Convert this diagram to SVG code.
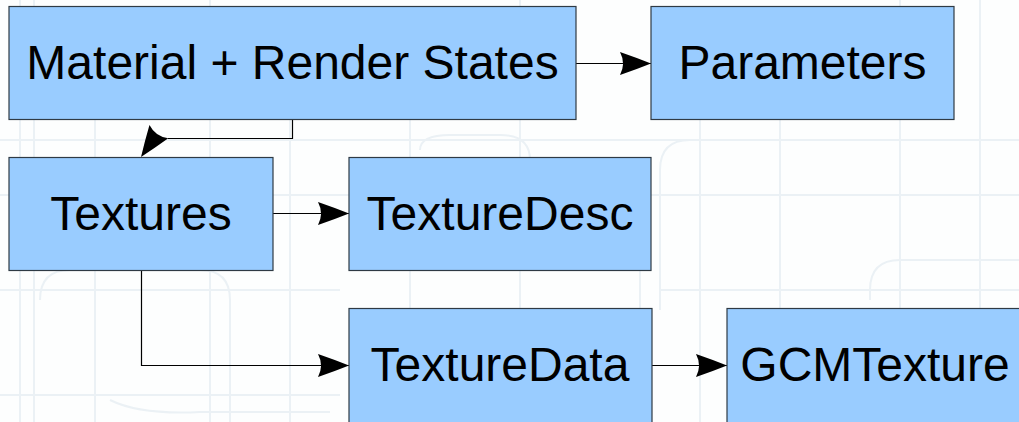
<svg xmlns="http://www.w3.org/2000/svg" width="1019" height="422" viewBox="0 0 1019 422">
  <style>
    .box { fill: #99ccff; stroke: #2f3a44; stroke-width: 1.2; }
    .label { font-family: "Liberation Sans", Arial, sans-serif; font-size: 48px; fill: #000; text-anchor: middle; }
    .wire { fill: none; stroke: #000; stroke-width: 1.2; }
    .bg { fill: none; stroke: #ebf1f5; stroke-width: 2; }
  </style>
  <defs>
    <!-- concave-sided arrowhead, tip at the origin, pointing along +x -->
    <path id="head" d="M0,0 Q-15,-6 -31,-11.5 Q-25,0 -31,11.5 Q-15,6 0,0 Z" fill="#000"/>
    <marker id="arrow" markerUnits="userSpaceOnUse" viewBox="-32 -12 33 24" refX="0" refY="0" markerWidth="33" markerHeight="24" orient="auto">
      <use href="#head"/>
    </marker>
  </defs>

  <!-- faint backdrop texture -->
  <rect width="1019" height="422" fill="#fdfefe"/>
  <g class="bg">
    <path d="M20,0 V422 M34,0 V422 M95,120 V422 M210,0 V422 M290,120 V422 M410,120 V422 M520,0 V422 M640,270 V422 M700,120 V422 M780,120 V422 M900,0 V422 M980,0 V422"/>
    <path d="M0,140 H1019 M0,195 H1019 M0,290 H340 M660,290 H1019 M0,395 H340"/>
    <path d="M660,310 V170 Q660,140 690,140 H1019"/>
    <path d="M870,300 V290 Q870,260 900,260 H1019"/>
    <path d="M40,300 Q40,270 70,270 H200 Q230,270 230,300 V422"/>
    <path d="M110,400 Q140,415 200,412 H330"/>
    <path d="M420,150 Q420,135 450,135 H500 Q530,135 530,160"/>
  </g>

  <g id="connectors">
    <path class="wire" d="M576,63.5 H651" marker-end="url(#arrow)"/>
    <path class="wire" d="M292.5,119 V138.5 H168"/>
    <use href="#head" transform="translate(141,157) rotate(125.2)"/>
    <path class="wire" d="M273,213.5 H349" marker-end="url(#arrow)"/>
    <path class="wire" d="M141.5,270 V365.5 H349" marker-end="url(#arrow)"/>
    <path class="wire" d="M652,365.5 H727" marker-end="url(#arrow)"/>
  </g>

  <g id="material">
    <rect class="box" x="9" y="6.5" width="567" height="113"/>
    <text class="label" x="292.5" y="79">Material + Render States</text>
  </g>
  <g id="parameters">
    <rect class="box" x="651" y="6.5" width="303" height="113"/>
    <text class="label" x="802.5" y="79">Parameters</text>
  </g>
  <g id="textures">
    <rect class="box" x="9" y="157.5" width="264" height="113"/>
    <text class="label" x="141" y="230">Textures</text>
  </g>
  <g id="texturedesc">
    <rect class="box" x="349" y="157.5" width="302" height="113"/>
    <text class="label" x="500" y="230">TextureDesc</text>
  </g>
  <g id="texturedata">
    <rect class="box" x="349" y="308.5" width="303" height="120"/>
    <text class="label" x="500" y="381">TextureData</text>
  </g>
  <g id="gcmtexture">
    <rect class="box" x="727" y="308.5" width="300" height="120"/>
    <text class="label" x="875" y="381">GCMTexture</text>
  </g>
</svg>
